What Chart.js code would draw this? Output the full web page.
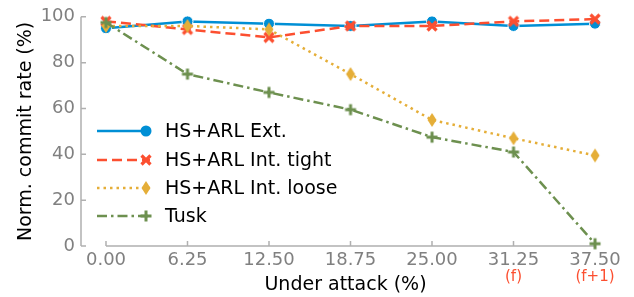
<!DOCTYPE html>
<html>
<head>
<meta charset="utf-8">
<script src="https://cdn.jsdelivr.net/npm/chart.js@4.4.1/dist/chart.umd.min.js"></script>
<style>
    html, body { margin: 0; padding: 0; background: #fff; }
    #wrap { width: 634px; height: 297px; position: relative; }
</style>
</head>
<body>
<div id="wrap"><canvas id="commitChart" width="634" height="297"></canvas></div>
<script>
// data
const attackPct = [0, 6.25, 12.5, 18.75, 25, 31.25, 37.5];
const attackLabels = ['0.00', '6.25', '12.50', '18.75', '25.00', '31.25', '37.50'];
const faultLabels = ['', '', '', '', '', '(f)', '(f+1)'];
const yTicks = [0, 20, 40, 60, 80, 100];

const seriesNames = ['HS+ARL Ext.', 'HS+ARL Int. tight', 'HS+ARL Int. loose', 'Tusk'];
const extValues = [95, 98, 97, 96, 98, 96, 97];
const tightValues = [98, 94.5, 91, 96, 96, 98, 99];
const looseValues = [96, 96, 94.5, 75, 55, 47, 39.5];
const tuskValues = [97.5, 75, 67, 59.5, 47.5, 41, 1];

const BLUE = '#008fd5', RED = '#fc4f30', ORANGE = '#e5ae38', GREEN = '#6d904f';
const AXIS_GREY = '#b0b0b0', TICK_GREY = '#808080';
const FONT = "'DejaVu Sans', sans-serif";

// marker images (matplotlib-ish shapes)
function makeMarker(kind, color) {
    var c = document.createElement('canvas');
    var w = 14, h = 16;
    c.width = w; c.height = h;
    var g = c.getContext('2d');
    g.strokeStyle = color;
    g.fillStyle = color;
    if (kind === 'diamond') {
        g.beginPath();
        g.moveTo(w / 2, 1);
        g.lineTo(w / 2 + 4.5, h / 2);
        g.lineTo(w / 2, h - 1);
        g.lineTo(w / 2 - 4.5, h / 2);
        g.closePath();
        g.fill();
    } else if (kind === 'x') {
        g.lineWidth = 3.2;
        g.beginPath();
        g.moveTo(w / 2 - 4.5, h / 2 - 4.5); g.lineTo(w / 2 + 4.5, h / 2 + 4.5);
        g.moveTo(w / 2 + 4.5, h / 2 - 4.5); g.lineTo(w / 2 - 4.5, h / 2 + 4.5);
        g.stroke();
    } else if (kind === 'plus') {
        g.lineWidth = 3;
        g.beginPath();
        g.moveTo(w / 2 - 5.5, h / 2); g.lineTo(w / 2 + 5.5, h / 2);
        g.moveTo(w / 2, h / 2 - 5.5); g.lineTo(w / 2, h / 2 + 5.5);
        g.stroke();
    }
    return c;
}

const markerX = makeMarker('x', RED);
const markerDiamond = makeMarker('diamond', ORANGE);
const markerPlus = makeMarker('plus', GREEN);

function toPoints(values) {
    return values.map((v, i) => ({ x: attackPct[i], y: v }));
}

// spines + inward ticks, trimmed x spine
const axesPlugin = {
    id: 'axesPlugin',
    beforeDatasetsDraw(chart) {
        const ctx = chart.ctx;
        const xs = chart.scales.x, ys = chart.scales.y;
        const area = chart.chartArea;
        ctx.save();
        ctx.strokeStyle = AXIS_GREY;
        ctx.lineWidth = 1.5;
        ctx.beginPath();
        // y spine
        ctx.moveTo(area.left, ys.getPixelForValue(100));
        ctx.lineTo(area.left, ys.getPixelForValue(0));
        yTicks.forEach(t => {
            const py = ys.getPixelForValue(t);
            ctx.moveTo(area.left, py);
            ctx.lineTo(area.left + 5, py);
        });
        // x spine
        const x0 = xs.getPixelForValue(attackPct[0]);
        const x1 = xs.getPixelForValue(attackPct[attackPct.length - 1]);
        const by = ys.getPixelForValue(0);
        ctx.moveTo(x0, by);
        ctx.lineTo(x1, by);
        attackPct.forEach(t => {
            const px = xs.getPixelForValue(t);
            ctx.moveTo(px, by);
            ctx.lineTo(px, by - 5);
        });
        ctx.stroke();
        ctx.restore();
    },
    afterDraw(chart) {
        // red (f) / (f+1) notes under the ticks
        const ctx = chart.ctx;
        const xs = chart.scales.x;
        ctx.save();
        ctx.fillStyle = RED;
        ctx.font = '15px ' + FONT;
        ctx.textAlign = 'center';
        ctx.textBaseline = 'middle';
        faultLabels.forEach((lab, i) => {
            if (lab) ctx.fillText(lab, xs.getPixelForValue(attackPct[i]), 277);
        });
        ctx.restore();
    }
};

// legend drawn inside the plot, line + marker like matplotlib
const legendPlugin = {
    id: 'legendPlugin',
    afterDatasetsDraw(chart) {
        const ctx = chart.ctx;
        const area = chart.chartArea;
        const lx0 = area.left + 16, lx1 = area.left + 69;
        const tx = area.left + 84;
        const rows = [131, 160, 188, 216];
        ctx.save();
        chart.data.datasets.forEach((ds, i) => {
            const y = rows[i];
            ctx.strokeStyle = ds.borderColor;
            ctx.lineWidth = ds.borderWidth;
            ctx.setLineDash(ds.borderDash || []);
            ctx.beginPath();
            ctx.moveTo(lx0, y);
            ctx.lineTo(lx1, y);
            ctx.stroke();
            ctx.setLineDash([]);
            const mx = lx1 - 4;
            if (ds.pointStyle === 'circle') {
                ctx.fillStyle = ds.pointBackgroundColor;
                ctx.beginPath();
                ctx.arc(mx, y, ds.pointRadius, 0, Math.PI * 2);
                ctx.fill();
            } else {
                const im = ds.pointStyle;
                ctx.drawImage(im, mx - im.width / 2, y - im.height / 2);
            }
            ctx.fillStyle = '#000';
            ctx.font = '19px ' + FONT;
            ctx.textAlign = 'left';
            ctx.textBaseline = 'middle';
            ctx.fillText(seriesNames[i], tx, y + 1);
        });
        ctx.restore();
    }
};

new Chart(document.getElementById('commitChart'), {
    type: 'line',
    data: {
        datasets: [{
            label: seriesNames[0],
            data: toPoints(extValues),
            borderColor: BLUE,
            borderWidth: 2.5,
            pointStyle: 'circle',
            pointRadius: 5.5,
            pointBackgroundColor: BLUE,
            pointBorderColor: '#ffffff',
            pointBorderWidth: 1,
            order: 4
        }, {
            label: seriesNames[1],
            data: toPoints(tightValues),
            borderColor: RED,
            borderWidth: 2.5,
            borderDash: [10, 5],
            pointStyle: markerX,
            order: 3
        }, {
            label: seriesNames[2],
            data: toPoints(looseValues),
            borderColor: ORANGE,
            borderWidth: 2.5,
            borderDash: [2.5, 4],
            pointStyle: markerDiamond,
            order: 2
        }, {
            label: seriesNames[3],
            data: toPoints(tuskValues),
            borderColor: GREEN,
            borderWidth: 2.5,
            borderDash: [10, 4, 2.5, 4],
            pointStyle: markerPlus,
            order: 1
        }]
    },
    options: {
        responsive: false,
        animation: false,
        clip: false,
        layout: { padding: { left: 0, right: 24, top: 13, bottom: 0 } },
        plugins: {
            legend: { display: false },
            tooltip: { enabled: false }
        },
        scales: {
            x: {
                type: 'linear',
                min: -1.917,
                max: 38.65,
                afterBuildTicks: (scale) => {
                    scale.ticks = attackPct.map(v => ({ value: v }));
                },
                afterFit: (scale) => { scale.height = 51; },
                grid: { display: false, drawTicks: false },
                border: { display: false },
                ticks: {
                    padding: 4,
                    color: TICK_GREY,
                    font: { family: FONT, size: 18 },
                    maxRotation: 0,
                    callback: (v) => {
                        const i = attackPct.indexOf(v);
                        return i >= 0 ? attackLabels[i] : '';
                    }
                },
                title: {
                    display: true,
                    text: 'Under attack (%)',
                    color: '#000',
                    font: { family: FONT, size: 19 },
                    padding: { top: 0, bottom: 1 }
                }
            },
            y: {
                min: 0,
                max: 100,
                afterBuildTicks: (scale) => {
                    scale.ticks = yTicks.map(v => ({ value: v }));
                },
                afterFit: (scale) => { scale.width = 81; },
                grid: { display: false, drawTicks: false },
                border: { display: false },
                ticks: {
                    padding: 6,
                    color: TICK_GREY,
                    font: { family: FONT, size: 18 }
                },
                title: {
                    display: true,
                    text: 'Norm. commit rate (%)',
                    color: '#000',
                    font: { family: FONT, size: 19 },
                    padding: { top: 15, bottom: 0 }
                }
            }
        }
    },
    plugins: [axesPlugin, legendPlugin]
});
</script>
</body>
</html>
